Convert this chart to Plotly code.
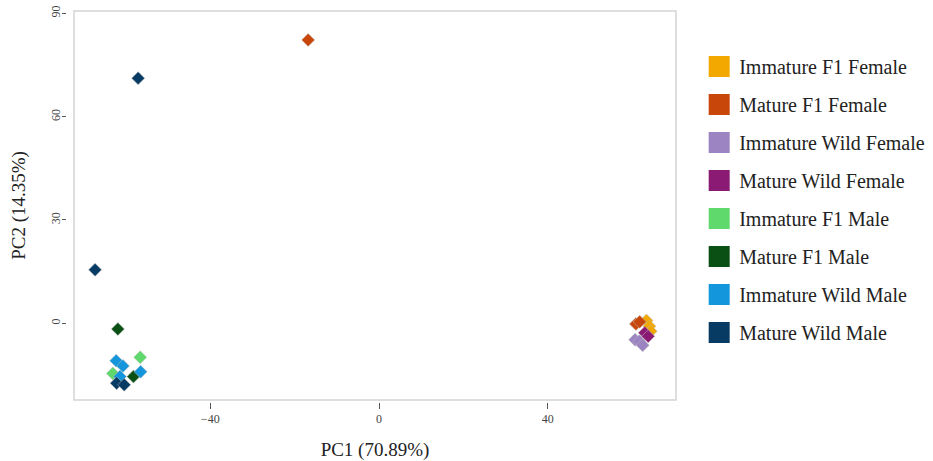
import plotly.graph_objects as go

groups = ["Immature F1 Female", "Mature F1 Female", "Immature Wild Female", "Mature Wild Female",
          "Immature F1 Male", "Mature F1 Male", "Immature Wild Male", "Mature Wild Male"]
colors = ["#F3A800", "#C8460A", "#9B84C1", "#8A1A74",
          "#5FD86C", "#0A5014", "#1396DC", "#073B63"]

pc1 = {
    "Immature F1 Female": [63.4, 64.1, 64.4],
    "Mature F1 Female": [-16.8, 60.9, 61.8],
    "Immature Wild Female": [60.7, 61.7, 62.5],
    "Mature Wild Female": [63.0, 63.8],
    "Immature F1 Male": [-56.6, -63.1],
    "Mature F1 Male": [-61.9, -58.2],
    "Immature Wild Male": [-62.3, -60.7, -56.5, -61.4],
    "Mature Wild Male": [-57.1, -67.3, -62.2, -60.4],
}
pc2 = {
    "Immature F1 Female": [0.8, -0.9, -2.3],
    "Mature F1 Female": [82.3, -0.2, 0.4],
    "Immature Wild Female": [-4.8, -5.2, -6.4],
    "Mature Wild Female": [-2.8, -3.8],
    "Immature F1 Male": [-9.9, -14.6],
    "Mature F1 Male": [-1.7, -15.5],
    "Immature Wild Male": [-10.9, -12.4, -14.1, -15.5],
    "Mature Wild Male": [71.2, 15.5, -17.4, -17.9],
}

x_ticks = [-40, 0, 40]
y_ticks = [0, 30, 60, 90]

serif = "Liberation Serif, Times New Roman, serif"

fig = go.Figure()
for g, c in zip(groups, colors):
    fig.add_trace(go.Scatter(
        x=pc1[g], y=pc2[g], mode="markers", name=g, showlegend=False,
        marker=dict(symbol="diamond", size=10, color=c,
                    line=dict(width=0.5, color="#bdbdbd")),
    ))
for i, (g, c) in enumerate(zip(groups, colors)):
    fig.add_trace(go.Scatter(
        x=[None], y=[None], mode="markers", name=g, legendgroup=f"g{i}",
        marker=dict(symbol="square", size=16, color=c, line=dict(width=5, color=c)),
    ))

fig.update_layout(
    width=933, height=461,
    margin=dict(l=66, r=257, t=11, b=59, autoexpand=False),
    paper_bgcolor="white", plot_bgcolor="white",
    font=dict(family=serif, color="#222"),
    xaxis=dict(domain=[0.0131, 1], anchor="free", position=0, automargin=False,
               range=[-72.3, 70.4], tickvals=x_ticks, ticks="outside",
               ticklen=6, tickcolor="#555", tickwidth=1, ticklabelstandoff=0,
               showgrid=False, zeroline=False, showline=False,
               tickfont=dict(family=serif, size=12, color="#444"),
               title=dict(text="PC1 (70.89%)", font=dict(family=serif, size=19, color="#222"),
                          standoff=25)),
    yaxis=dict(domain=[0.00512, 1], anchor="free", position=0, automargin=False,
               range=[-22.3, 90.7], tickvals=y_ticks, ticks="outside",
               ticklen=4, tickcolor="#555", tickwidth=1, tickangle=-90,
               ticklabelstandoff=-3,
               showgrid=False, zeroline=False, showline=False,
               tickfont=dict(family=serif, size=12, color="#444"),
               title=dict(text="PC2 (14.35%)", font=dict(family=serif, size=19, color="#222"),
                          standoff=17)),
    legend=dict(x=1.038, xanchor="left", y=0.908, yanchor="top",
                font=dict(family=serif, size=20, color="#222"),
                tracegroupgap=9, traceorder="grouped", itemsizing="trace",
                bgcolor="rgba(0,0,0,0)"),
    shapes=[dict(type="rect", xref="paper", yref="paper",
                 x0=0.0131, x1=1, y0=0.00512, y1=1,
                 line=dict(color="#d4d4d4", width=1.5), layer="below")],
)

fig.write_html("out.html")
